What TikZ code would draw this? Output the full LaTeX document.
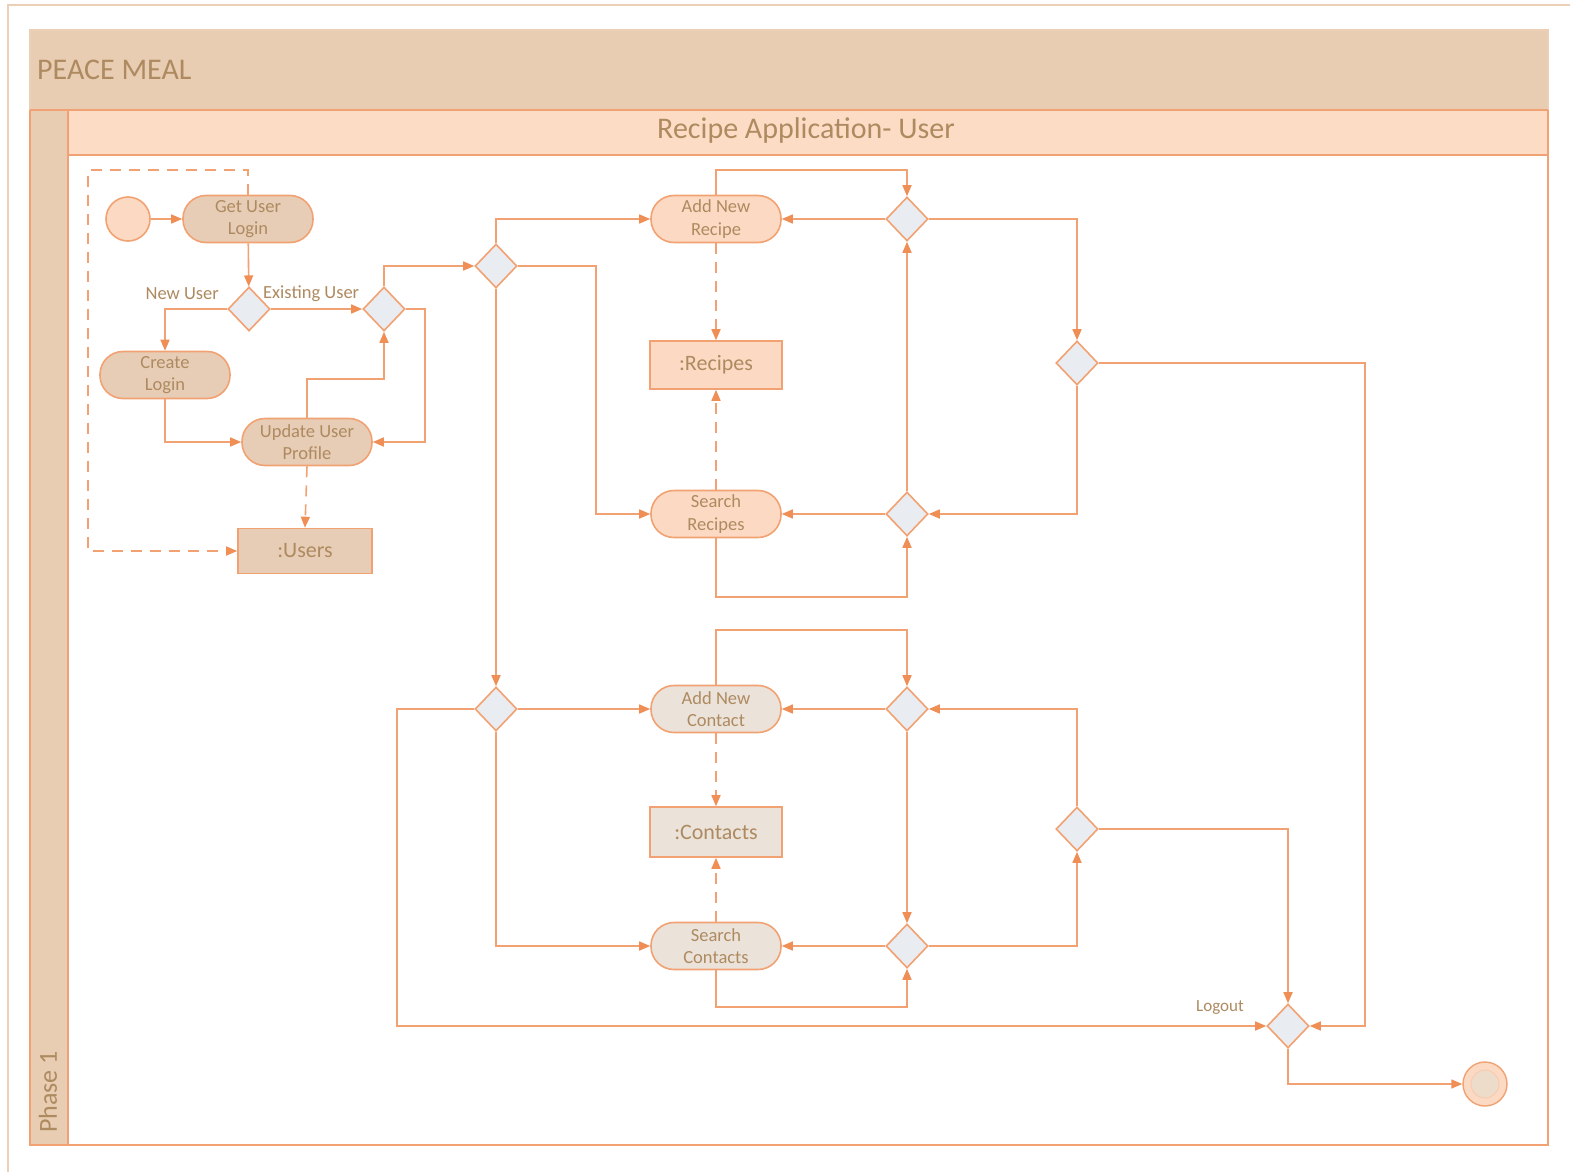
\documentclass[tikz,border=0pt]{standalone}
\usepackage{fontspec}
\setmainfont{Carlito}
\usetikzlibrary{arrows.meta,shapes.geometric}

\definecolor{lineC}{HTML}{F2A272}
\definecolor{arrowC}{HTML}{EF8E55}
\definecolor{headC}{HTML}{F0A275}
\definecolor{frameC}{HTML}{EBCFB6}
\definecolor{poolC}{HTML}{E8CDB3}
\definecolor{laneHeadC}{HTML}{FDDCC5}
\definecolor{txtC}{HTML}{AE8A60}
\definecolor{tanC}{HTML}{E7CDB5}
\definecolor{peachC}{HTML}{FCD9C2}
\definecolor{greyC}{HTML}{EBE2DA}
\definecolor{decC}{HTML}{E9ECF0}

\tikzset{
  flow/.style={draw=lineC, line width=1.6pt,
    -{Triangle[length=11pt,width=9pt,color=arrowC]}},
  objflow/.style={flow, dash pattern=on 11pt off 8pt},
  activity/.style={rectangle, rounded corners=23pt, minimum width=130pt,
    minimum height=47pt, draw=lineC, line width=1.6pt, align=center,
    text=txtC, inner sep=0pt, font=\fontsize{18.5}{22.5}\selectfont},
  objbox/.style={rectangle, minimum width=132pt, minimum height=47pt,
    draw=lineC, line width=1.6pt, text=txtC, inner sep=0pt,
    font=\fontsize{22}{24}\selectfont},
  decision/.style={diamond, minimum width=42pt, minimum height=44pt,
    inner sep=0pt, draw=lineC, line width=1.6pt, fill=decC},
  guard/.style={text=txtC, inner sep=0pt, font=\fontsize{18.5}{20}\selectfont},
}

\begin{document}
\begin{tikzpicture}[x=1pt,y=-1pt]
  \useasboundingbox (0,0) rectangle (1570,1172);
  \fill[white] (0,0) rectangle (1570,1172);

  % page frame
  \draw[frameC, line width=1.4pt] (8,1172) -- (8,5) -- (1570,5);

  % pool, lane and headers
  \fill[poolC] (30,30) rectangle (1548,110);
  \draw[frameC, line width=1.2pt] (30,110) -- (30,30) -- (1548,30) -- (1548,110);
  \fill[poolC] (30,110) rectangle (68,1145);
  \fill[laneHeadC] (68,110) rectangle (1548,155);
  \draw[headC, line width=1.6pt] (30,110) -- (1548,110);
  \draw[headC, line width=1.6pt] (68,155) -- (1548,155);
  \draw[lineC, line width=1.4pt] (30,110) -- (30,1145) -- (1548,1145) -- (1548,110);
  \draw[lineC, line width=1.4pt] (68,110) -- (68,1145);

  \node[anchor=west, text=txtC, inner sep=0pt, font=\fontsize{30}{32}\selectfont]
    (pooltitle) at (37,70) {PEACE MEAL};
  \node[text=txtC, inner sep=0pt, font=\fontsize{30}{32}\selectfont]
    (lanetitle) at (806,131) {Recipe Application- User};
  \node[text=txtC, inner sep=0pt, rotate=90, font=\fontsize{26}{28}\selectfont]
    (phase) at (48,1092) {Phase 1};

  % login part
  \node[circle, minimum size=44pt, inner sep=0pt, draw=lineC, line width=1.6pt,
    fill=peachC] (start) at (128,219) {};
  \node[activity, fill=tanC] (getlogin) at (248,219) {Get User\\Login};
  \node[decision] (d1) at (249,309) {};
  \node[decision] (d2) at (384,309) {};
  \node[activity, fill=tanC] (createlogin) at (165,375) {Create\\Login};
  \node[activity, fill=tanC] (update) at (307,442) {Update User\\Profile};
  \node[objbox, fill=tanC, minimum width=134pt, minimum height=45pt] (users) at (305,551) {:Users};

  \node[guard, anchor=east] (lnew) at (219,294) {New User};
  \node[guard, anchor=west] (lexist) at (263,294) {Existing User};

  \draw[flow] (start) -- (getlogin);
  \draw[flow] (getlogin) -- (d1);
  \draw[flow] (d1.west) -| (createlogin.north);
  \draw[flow] (d1) -- (d2);
  \draw[flow] (createlogin.south) |- (update.west);
  \draw[flow] (d2.east) -- (425,309) |- (update.east);
  \draw[flow] (update.north) -- ++(0,-38.5) -| (d2.south);
  \draw[objflow] (update.south) -- (users.north);
  \draw[objflow] (getlogin.north) -- ++(0,-24.5) -| (88,551) -- (users.west);

  % recipes part
  \node[decision] (d3) at (496,266) {};
  \node[activity, fill=peachC] (addrecipe) at (716,219) {Add New\\Recipe};
  \node[objbox, fill=peachC, minimum height=48pt] (recipes) at (716,365) {:Recipes};
  \node[activity, fill=peachC] (searchrecipes) at (716,514) {Search\\Recipes};
  \node[decision] (d4) at (907,219) {};
  \node[decision] (d5) at (907,514) {};
  \node[decision] (d7) at (1077,363) {};

  \draw[flow] (d2.north) |- (d3.west);
  \draw[flow] (d3.north) |- (addrecipe.west);
  \draw[flow] (d3.east) -- (596,266) |- (searchrecipes.west);
  \draw[objflow] (addrecipe.south) -- (recipes.north);
  \draw[objflow] (searchrecipes.north) -- (recipes.south);
  \draw[flow] (d4.west) -- (addrecipe.east);
  \draw[flow] (addrecipe.north) -- ++(0,-25) -| (d4.north);
  \draw[flow] (d5.north) -- (d4.south);
  \draw[flow] (d4.east) -| (d7.north);
  \draw[flow] (d5.west) -- (searchrecipes.east);
  \draw[flow] (searchrecipes.south) -- ++(0,58.5) -| (d5.south);
  \draw[flow] (d7.south) |- (d5.east);

  % contacts part
  \node[decision] (d6) at (496,709) {};
  \node[activity, fill=greyC] (addcontact) at (716,709) {Add New\\Contact};
  \node[objbox, fill=greyC, minimum height=50pt] (contacts) at (716,832) {:Contacts};
  \node[activity, fill=greyC] (searchcontacts) at (716,946) {Search\\Contacts};
  \node[decision] (d8) at (907,709) {};
  \node[decision] (d9) at (907,946) {};
  \node[decision] (d11) at (1077,829) {};

  \draw[flow] (d3.south) -- (d6.north);
  \draw[flow] (d6.east) -- (addcontact.west);
  \draw[flow] (d6.south) |- (searchcontacts.west);
  \draw[objflow] (addcontact.south) -- (contacts.north);
  \draw[objflow] (searchcontacts.north) -- (contacts.south);
  \draw[flow] (addcontact.north) -- ++(0,-54.5) -| (d8.north);
  \draw[flow] (d8.west) -- (addcontact.east);
  \draw[flow] (d8.south) -- (d9.north);
  \draw[flow] (d11.north) |- (d8.east);
  \draw[flow] (d9.west) -- (searchcontacts.east);
  \draw[flow] (searchcontacts.south) -- ++(0,36.5) -| (d9.south);
  \draw[flow] (d9.east) -| (d11.south);

  % logout and end
  \node[decision] (d10) at (1288,1026) {};
  \node[circle, minimum size=44pt, inner sep=0pt, draw=lineC, line width=1.4pt,
    fill=peachC] (end) at (1485,1084) {};
  \node[circle, minimum size=28pt, inner sep=0pt, draw=lineC!55, line width=1pt,
    fill=tanC!70] (endinner) at (end.center) {};
  \node[guard, anchor=east, font=\fontsize{17}{19}\selectfont] (llogout) at (1244,1007) {Logout};

  \draw[flow] (d7.east) -- (1365,363) |- (d10.east);
  \draw[flow] (d6.west) -- (397,709) |- (d10.west);
  \draw[flow] (d11.east) -| (d10.north);
  \draw[flow] (d10.south) |- (end.west);
\end{tikzpicture}
\end{document}
